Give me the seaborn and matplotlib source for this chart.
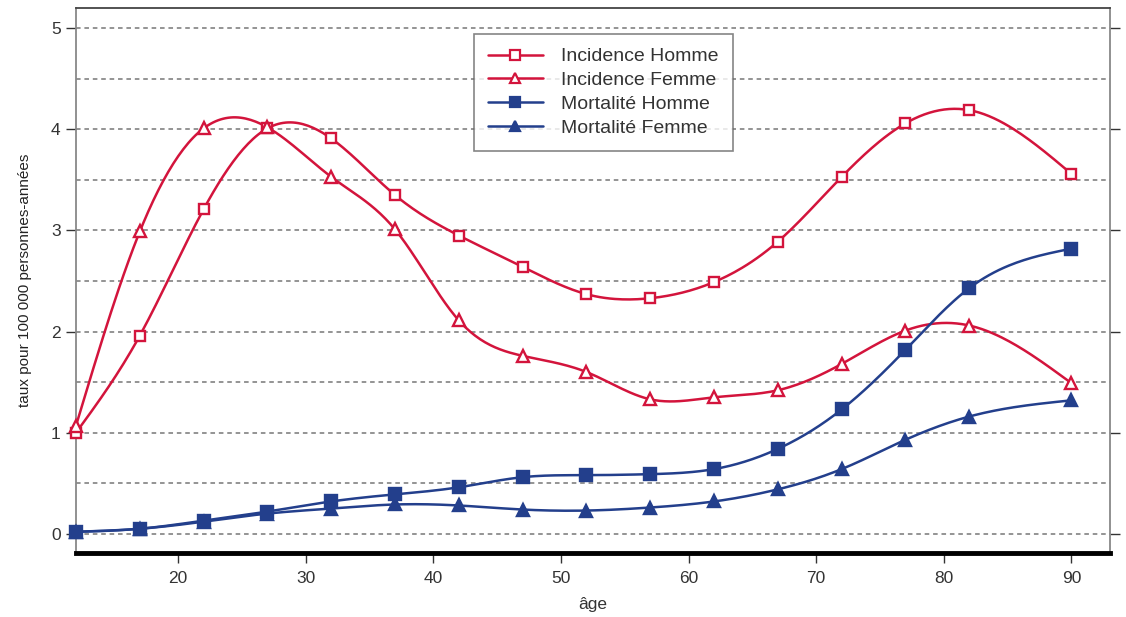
import numpy as np
import pandas as pd
import matplotlib
matplotlib.use("Agg")
import matplotlib.pyplot as plt
from matplotlib.lines import Line2D
import seaborn as sns

ages = [12, 17, 22, 27, 32, 37, 42, 47, 52, 57, 62, 67, 72, 77, 82, 90]
incidence_homme = [1.00, 1.96, 3.21, 4.01, 3.91, 3.35, 2.95, 2.64, 2.37, 2.33, 2.49, 2.89, 3.53, 4.06, 4.19, 3.56]
incidence_femme = [1.07, 2.99, 4.01, 4.02, 3.53, 3.01, 2.11, 1.76, 1.60, 1.33, 1.35, 1.42, 1.68, 2.01, 2.06, 1.49]
mortalite_homme = [0.02, 0.05, 0.13, 0.22, 0.32, 0.39, 0.46, 0.56, 0.58, 0.59, 0.64, 0.84, 1.23, 1.82, 2.43, 2.82]
mortalite_femme = [0.02, 0.05, 0.12, 0.20, 0.25, 0.29, 0.28, 0.24, 0.23, 0.26, 0.32, 0.44, 0.64, 0.93, 1.16, 1.32]

series_names = ["Incidence Homme", "Incidence Femme", "Mortalité Homme", "Mortalité Femme"]
y_ticks = [0, 1, 2, 3, 4, 5]
x_ticks = [20, 30, 40, 50, 60, 70, 80, 90]

RED = "#d3143c"
BLUE = "#233f8c"

sns.set_theme(style="white")
plt.rcParams["font.family"] = ["Liberation Sans", "DejaVu Sans"]


def natural_spline(x, y, n=400):
    x = np.asarray(x, float)
    y = np.asarray(y, float)
    m = len(x)
    h = np.diff(x)
    A = np.zeros((m, m))
    b = np.zeros(m)
    A[0, 0] = A[-1, -1] = 1
    for i in range(1, m - 1):
        A[i, i - 1] = h[i - 1]
        A[i, i] = 2 * (h[i - 1] + h[i])
        A[i, i + 1] = h[i]
        b[i] = 6 * ((y[i + 1] - y[i]) / h[i] - (y[i] - y[i - 1]) / h[i - 1])
    M = np.linalg.solve(A, b)
    xs = np.linspace(x[0], x[-1], n)
    idx = np.clip(np.searchsorted(x, xs) - 1, 0, m - 2)
    x0, x1 = x[idx], x[idx + 1]
    hh = x1 - x0
    t0 = x1 - xs
    t1 = xs - x0
    ys = (M[idx] * t0 ** 3 + M[idx + 1] * t1 ** 3) / (6 * hh) \
        + (y[idx] / hh - M[idx] * hh / 6) * t0 \
        + (y[idx + 1] / hh - M[idx + 1] * hh / 6) * t1
    return xs, ys


fig = plt.figure(figsize=(11.26, 6.17), dpi=100)
ax = fig.add_axes([0.0675, 0.1037, 0.918, 0.8833])

for yv in np.arange(0, 5.01, 0.5):
    ax.axhline(yv, color="#777777", lw=1.1, ls=(0, (3, 2.5)), zorder=0)

styles = [
    (incidence_homme, RED, "s", "white", 7.5),
    (incidence_femme, RED, "^", "white", 8.5),
    (mortalite_homme, BLUE, "s", BLUE, 8),
    (mortalite_femme, BLUE, "^", BLUE, 8.5),
]

handles = []
for name, (vals, col, mk, fc, ms) in zip(series_names, styles):
    xs, ys = natural_spline(ages, vals)
    smooth = pd.DataFrame({"age": xs, "val": ys})
    sns.lineplot(data=smooth, x="age", y="val", ax=ax, color=col, lw=1.8, zorder=2)
    pts = pd.DataFrame({"age": ages, "val": vals})
    ax.plot(pts["age"], pts["val"], ls="none", marker=mk, ms=ms, mfc=fc, mec=col,
            mew=1.7, zorder=3, clip_on=False)
    handles.append(Line2D([], [], color=col, lw=1.8, marker=mk, ms=ms * 0.9,
                          mfc=fc, mec=col, mew=1.6, label=name))

ax.set_xlim(12, 93)
ax.set_ylim(-0.19, 5.2)
ax.set_xticks(x_ticks)
ax.set_yticks(y_ticks)
ax.tick_params(axis="both", labelsize=12.5, colors="#333333", length=7, width=1,
               direction="out", left=True, bottom=True, right=True)
ax.tick_params(axis="y", pad=4)
ax.tick_params(axis="x", pad=6)
ax.tick_params(axis="y", which="both", labelright=False)
ax.set_xlabel("âge", fontsize=12.5, color="#333333", labelpad=8)
ax.set_ylabel("taux pour 100 000 personnes-années", fontsize=11, color="#222222", labelpad=14)

for side in ["left", "right"]:
    ax.spines[side].set_color("#888888")
    ax.spines[side].set_linewidth(1.3)
ax.spines["top"].set_color("#444444")
ax.spines["top"].set_linewidth(1.3)
ax.spines["bottom"].set_color("black")
ax.spines["bottom"].set_linewidth(3.5)

leg = ax.legend(handles=handles, loc="upper left", bbox_to_anchor=(0.385, 0.952),
                fontsize=14, frameon=True, fancybox=False, edgecolor="#666666",
                handlelength=2.85, handletextpad=0.95, labelspacing=0.32,
                borderpad=0.7, borderaxespad=0)
leg.get_frame().set_linewidth(1.2)
for t in leg.get_texts():
    t.set_color("#333333")

fig.savefig("out.png", dpi=100)
